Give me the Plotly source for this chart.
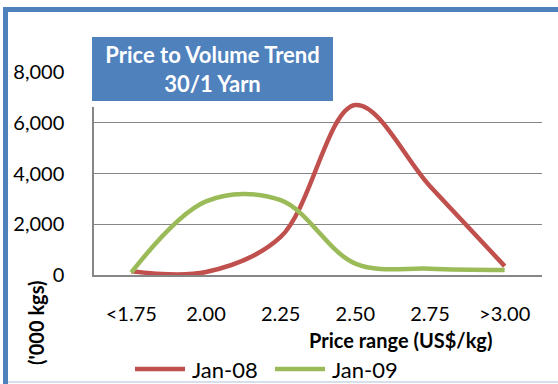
import plotly.graph_objects as go

# Price bands and volumes ('000 kgs)
categories = ["<1.75", "2.00", "2.25", "2.50", "2.75", ">3.00"]
jan08 = [150, 120, 1500, 6700, 3500, 350]
jan09 = [100, 2900, 2950, 450, 250, 200]
series_names = ["Jan-08", "Jan-09"]
series_colors = ["#C0504D", "#9BBB59"]
y_ticks = [0, 2000, 4000, 6000, 8000]

FONT = "Lato, 'Liberation Sans', Arial, sans-serif"
W, H = 558, 384
L, R, T, B = 94, 16, 72, 109
PW, PH = W - L - R, H - T - B


def px(x):
    return (x - L) / PW


def py(y):
    return (H - B - y) / PH


fig = go.Figure()
for name, vals, col in zip(series_names, [jan08, jan09], series_colors):
    fig.add_trace(go.Scatter(
        x=categories, y=vals, name=name, mode="lines",
        line=dict(color=col, width=4.5, shape="spline", smoothing=1.0),
        showlegend=False,
    ))

fig.update_layout(
    width=W, height=H,
    margin=dict(l=L, r=R, t=T, b=B),
    paper_bgcolor="white", plot_bgcolor="white",
    font=dict(family=FONT, size=20, color="black"),
    xaxis=dict(
        type="category", range=[-0.5, 5.5],
        showgrid=False, zeroline=False,
        showline=True, linecolor="#868686", linewidth=2,
        ticks="", ticklabelstandoff=20,
        tickfont=dict(size=20),
    ),
    yaxis=dict(
        range=[0, 8000], tickvals=y_ticks, tickformat=",d",
        showgrid=True, gridcolor="#868686", gridwidth=1.3,
        zeroline=False,
        showline=True, linecolor="#868686", linewidth=1.5,
        ticks="", ticklabelstandoff=24,
        tickfont=dict(size=20),
    ),
)

annotations = [
    # chart title in a blue box
    dict(text="<b>Price to Volume Trend<br>30/1 Yarn</b>",
         x=px(212.5), y=py(69), xref="paper", yref="paper",
         xanchor="center", yanchor="middle", showarrow=False,
         width=241, height=64, bgcolor="#4F81BD",
         bordercolor="white", borderwidth=6, borderpad=0,
         font=dict(family=FONT, size=22, color="white")),
    # value axis title
    dict(text="<b>('000 kgs)</b>", x=px(36), y=py(323),
         xref="paper", yref="paper", xanchor="center", yanchor="middle",
         textangle=-90, showarrow=False, font=dict(family=FONT, size=20)),
    # category axis title
    dict(text="<b>Price range (US$/kg)</b>", x=px(400), y=py(340),
         xref="paper", yref="paper", xanchor="center", yanchor="middle",
         showarrow=False, font=dict(family=FONT, size=20)),
]

shapes = [
    # chart frame
    dict(type="line", xref="paper", yref="paper",
         x0=px(5.5), x1=px(5.5), y0=py(7), y1=py(384),
         line=dict(color="#4F81BD", width=5)),
    dict(type="line", xref="paper", yref="paper",
         x0=px(3), x1=px(558), y0=py(9.5), y1=py(9.5),
         line=dict(color="#4F81BD", width=5)),
    dict(type="line", xref="paper", yref="paper",
         x0=px(8), x1=px(558), y0=py(382), y1=py(382),
         line=dict(color="#C9D5E6", width=1.5)),
]

# legend: line sample followed by series name
legend_x = [135, 275]
for lx, name, col in zip(legend_x, series_names, series_colors):
    shapes.append(dict(type="line", xref="paper", yref="paper",
                       x0=px(lx), x1=px(lx + 50), y0=py(369), y1=py(369),
                       line=dict(color=col, width=4.5)))
    annotations.append(dict(text=name, x=px(lx + 55), y=py(369),
                            xref="paper", yref="paper",
                            xanchor="left", yanchor="middle",
                            showarrow=False,
                            font=dict(family=FONT, size=22)))

fig.update_layout(annotations=annotations, shapes=shapes)

fig.write_html("out.html")
